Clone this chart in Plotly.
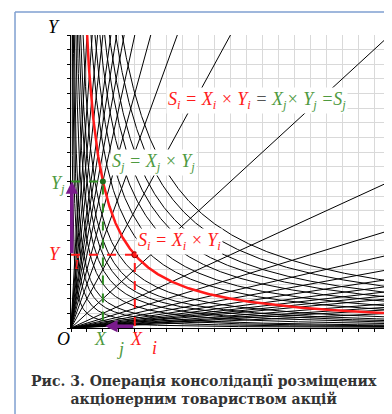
import numpy as np
import plotly.graph_objects as go

# families of curves (data units: 20 x 20 grid)
hyper_S = [1, 2, 3, 4, 6, 8, 10, 12, 15, 25, 30, 36, 42, 48, 56, 64]
ray_up = [1, 2, 3, 4, 5, 6, 7, 8, 10, 12, 15, 20]
ray_down = [2, 3, 4, 5, 6, 7, 8, 9, 10, 12, 14, 16, 20]

# the highlighted pair
X_i, Y_i = 4, 5
X_j, Y_j = 2, 10
S_red = X_i * Y_i

RED = "#ff1a1a"
GREEN = "#4f9a3f"
PURPLE = "#7a1b8c"
FONT = "Liberation Serif"

fig = go.Figure()

xs = np.linspace(0.01, 20, 800)

for s in hyper_S:
    fig.add_trace(go.Scatter(x=xs, y=s / xs, mode="lines",
                             line=dict(color="black", width=1), hoverinfo="skip"))
for n in ray_up:
    fig.add_trace(go.Scatter(x=[0, 20], y=[0, 20 * n], mode="lines",
                             line=dict(color="black", width=1), hoverinfo="skip"))
for n in ray_down:
    fig.add_trace(go.Scatter(x=[0, 20], y=[0, 20 / n], mode="lines",
                             line=dict(color="black", width=1), hoverinfo="skip"))

# red hyperbola
fig.add_trace(go.Scatter(x=xs, y=S_red / xs, mode="lines",
                         line=dict(color=RED, width=2.5), hoverinfo="skip"))

# dashed projections
fig.add_trace(go.Scatter(x=[0, X_i, X_i], y=[Y_i, Y_i, 0], mode="lines",
                         line=dict(color=RED, width=2, dash="dash"), hoverinfo="skip"))
fig.add_trace(go.Scatter(x=[0, X_j, X_j], y=[Y_j, Y_j, 0], mode="lines",
                         line=dict(color="#2e8b22", width=2, dash="dash"), hoverinfo="skip"))
fig.add_trace(go.Scatter(x=[X_i], y=[Y_i], mode="markers",
                         marker=dict(color=RED, size=6, line=dict(color="#800", width=1))))
fig.add_trace(go.Scatter(x=[X_j], y=[Y_j], mode="markers",
                         marker=dict(color="#1f6b1a", size=6)))

# axis arrow heads
fig.add_trace(go.Scatter(x=[0, 19.85], y=[20.35, 0], mode="markers", cliponaxis=False,
                         marker=dict(color="black", size=7,
                                     symbol=["triangle-up", "triangle-right"])))

# X axis letter
fig.add_trace(go.Scatter(x=[19.55], y=[-0.8], mode="text", text=["<i>X</i>"],
                         cliponaxis=False, textposition="middle center",
                         textfont=dict(family=FONT, size=17, color="black")))

anns = []
# purple arrows (consolidation)
anns.append(dict(x=0.05, y=Y_j, ax=0.05, ay=Y_i, xref="x", yref="y", axref="x", ayref="y",
                 showarrow=True, arrowhead=2, arrowsize=0.7, arrowwidth=3.5, arrowcolor=PURPLE,
                 text=""))
anns.append(dict(x=X_j + 0.15, y=0.12, ax=X_i, ay=0.12, xref="x", yref="y", axref="x", ayref="y",
                 showarrow=True, arrowhead=2, arrowsize=0.7, arrowwidth=3.5, arrowcolor=PURPLE,
                 text=""))


def label(x, y, text, color, size=17, ref="x", bg=None):
    yref = "y" if ref == "x" else "paper"
    d = dict(x=x, y=y, xref=ref, yref=yref, text=text, showarrow=False,
             xanchor="center", yanchor="middle",
             font=dict(family=FONT, size=size, color=color, style="italic"))
    if bg:
        d["bgcolor"] = bg
    anns.append(d)


# axis letters and projections (paper coordinates)
label(-0.053, 1.027, "Y", "black", 18, ref="paper")
label(-0.025, -0.0375, "O", "black", 18, ref="paper")
label(-0.041, 0.491, "Y<sub>j</sub>", GREEN, 18, ref="paper")
label(-0.05, 0.2526, "Y", RED, 18, ref="paper")
label(0.0188, 0.222, "i", RED, 18, ref="paper")
label(0.091, -0.0375, "X", GREEN, 18, ref="paper")
label(0.154, -0.0717, "j", GREEN, 18, ref="paper")
label(0.204, -0.0375, "X", RED, 18, ref="paper")
label(0.263, -0.068, "i", RED, 18, ref="paper")

# formulas
label(5.15, 11.3,
      "S<sub>j</sub> = X<sub>j</sub> × Y<sub>j</sub>", GREEN, 18, bg="white")
label(6.8, 5.9,
      "S<sub>i</sub> = X<sub>i</sub> × Y<sub>i</sub>", RED, 18, bg="white")
label(11.65, 15.55,
      "<span style='color:%s'>S<sub>i</sub> = X<sub>i</sub> × Y<sub>i</sub></span>"
      "<span style='color:#555'> = </span>"
      "<span style='color:%s'>X<sub>j</sub>× Y<sub>j</sub> =S<sub>j</sub></span>" % (RED, GREEN),
      RED, 18, bg="white")

# caption
anns.append(dict(x=0.417, y=-0.213, xref="paper", yref="paper", showarrow=False,
                 xanchor="center", yanchor="middle",
                 text="Рис. 3. Операція консолідації розміщених<br>акціонерним товариством акцій",
                 font=dict(family="DejaVu Serif", size=14, color="#333333", weight="bold")))

fig.update_layout(
    width=392, height=408,
    margin=dict(l=63, r=10, t=27, b=88),
    paper_bgcolor="white", plot_bgcolor="white",
    showlegend=False,
    annotations=anns,
    shapes=[
        dict(type="line", xref="paper", yref="paper", x0=-0.1755, x1=-0.1755, y0=-0.4, y1=1.0785,
             line=dict(color="#7f9fd0", width=1.5)),
        dict(type="line", xref="paper", yref="paper", x0=-0.1755, x1=1.1, y0=1.0785, y1=1.0785,
             line=dict(color="#7f9fd0", width=1.5)),
    ],
    xaxis=dict(range=[0, 20], dtick=1, showgrid=True, gridcolor="#d9d9d9", gridwidth=1,
               zeroline=False, showline=True, linecolor="black", linewidth=1,
               ticks="outside", ticklen=3, tickcolor="black", showticklabels=False),
    yaxis=dict(range=[0, 20], dtick=1, showgrid=True, gridcolor="#d9d9d9", gridwidth=1,
               zeroline=False, showline=True, linecolor="black", linewidth=1,
               ticks="outside", ticklen=3, tickcolor="black", showticklabels=False),
)

fig.write_html("out.html")
